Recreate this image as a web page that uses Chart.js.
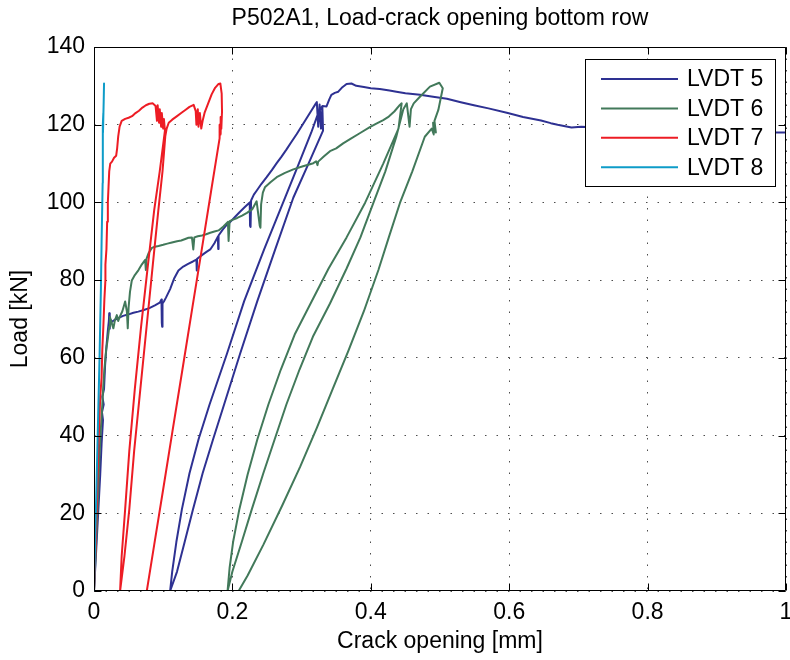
<!DOCTYPE html>
<html>
<head>
<meta charset="utf-8">
<script src="https://cdn.jsdelivr.net/npm/chart.js@4.4.1/dist/chart.umd.min.js"></script>
<style>
    html, body { margin: 0; padding: 0; background: #fff; }
    #wrap { width: 790px; height: 660px; }
</style>
</head>
<body>
<div id="wrap"><canvas id="crack-graph" width="790" height="660"></canvas></div>
<script>
// crack opening [mm], load [kN]
const lvdt5 = [
    [0,0],[0.003,10],[0.006,20],[0.009,30],[0.011,38],[0.013,44],[0.0115,46],[0.014,48],[0.012,50],[0.0145,52],
    [0.016,58],[0.018,63],[0.020,67],[0.0215,69.5],[0.022,71.5],[0.0225,67.5],[0.023,70],[0.026,69.3],[0.030,69.8],
    [0.035,70.2],[0.042,70.8],[0.050,71.2],[0.057,71.6],[0.064,71.9],[0.072,72.3],[0.080,72.8],[0.088,73.5],
    [0.095,74.2],[0.0975,75],[0.098,69],[0.0985,68],[0.099,74],[0.101,74.5],[0.104,75.5],[0.110,77.7],[0.116,80.5],
    [0.122,82.5],[0.129,83.5],[0.136,84.2],[0.143,84.8],[0.148,85.3],[0.1485,82.5],[0.149,85.5],[0.155,86.3],
    [0.162,87.2],[0.168,87.9],[0.174,89.5],[0.179,91.2],[0.1795,88],[0.180,91.5],[0.186,93],[0.192,94.3],[0.197,95],
    [0.204,96.3],[0.211,97.6],[0.218,98.8],[0.225,100],[0.2255,94],[0.226,99],[0.2265,93.7],[0.227,100.5],[0.231,102],
    [0.235,103],[0.242,104.8],[0.2495,106.5],[0.257,108.3],[0.264,110.1],[0.271,111.8],[0.278,113.6],[0.285,115.5],
    [0.293,117.6],[0.300,119.6],[0.307,121.6],[0.314,123.6],[0.320,125.3],[0.322,125.8],[0.324,119.5],[0.326,125.2],
    [0.328,119],[0.330,124.5],[0.331,118.5],
    [0.310,110],[0.288,101.2],[0.262,88],[0.236,74.6],[0.211,61],[0.188,48],[0.172,39],[0.157,30.3],[0.143,21],
    [0.131,12.6],[0.120,5],[0.110,0],
    [0.113,5],[0.119,12.6],[0.127,21],[0.138,30.3],[0.151,39],[0.167,48],[0.192,61],[0.217,74.6],[0.246,88],
    [0.276,101.2],[0.296,110],[0.314,118],[0.324,123],[0.330,124.8],
    [0.336,124.7],[0.340,126.5],[0.343,127.7],[0.348,128.2],[0.353,128.5],[0.358,129.5],[0.365,130.5],[0.372,130.6],
    [0.379,130.0],[0.390,129.7],[0.400,129.4],[0.413,129.2],[0.427,128.8],[0.437,128.5],[0.450,128.1],[0.471,127.7],
    [0.490,127.2],[0.510,126.7],[0.530,125.8],[0.549,125.0],[0.570,124.2],[0.598,123.0],[0.620,122.0],[0.646,121.1],
    [0.660,120.4],[0.670,120.0],[0.690,119.3],[0.704,119.5],[0.730,119.3],[0.760,119.1],[0.800,118.8],[0.850,118.6],
    [0.900,118.4],[0.950,118.3],[0.975,118.3],[0.980,118.0],[1.0,118.0]
]

const lvdt6 = [
    [0,0],[0.003,12],[0.006,25],[0.008,35],[0.010,42],[0.012,48],[0.0135,53],[0.015,57],[0.0175,62],[0.020,65],
    [0.022,68],[0.023,70.5],[0.0255,69],[0.028,67.6],[0.030,69.5],[0.033,71],[0.035,69.5],[0.037,70.5],[0.041,72],
    [0.045,74.5],[0.0475,72],[0.0488,67.6],[0.050,73],[0.052,77],[0.0546,79.9],[0.059,81.3],[0.0643,82.6],[0.069,84],
    [0.0739,85.2],[0.0749,82.6],[0.0758,85.5],[0.079,87],[0.0836,88.3],[0.088,88.6],[0.0932,88.8],[0.100,89.1],
    [0.106,89.4],[0.1126,89.7],[0.120,90],[0.126,90.2],[0.1319,90.6],[0.1365,90.9],[0.1415,91],[0.1435,87.9],
    [0.145,91],[0.150,91.3],[0.156,91.5],[0.162,91.8],[0.168,92.2],[0.174,92.5],[0.180,92.8],[0.187,93.8],
    [0.1935,95],[0.1945,90.1],[0.196,95.2],[0.200,95.5],[0.207,96],[0.214,96.6],[0.221,97.3],[0.2285,98.2],
    [0.235,100.3],[0.2395,94],[0.2405,93.5],[0.2415,99.5],[0.244,102.5],[0.247,103.9],[0.255,105.2],[0.264,106.5],
    [0.276,107.6],[0.288,108.5],[0.302,109.3],[0.317,110.1],[0.321,110.6],[0.323,109.6],[0.324,110.5],[0.332,111.8],
    [0.341,113.2],[0.350,113.9],[0.360,115.2],[0.370,116.3],[0.384,117.8],[0.3986,119.4],[0.408,120.3],[0.418,121.2],
    [0.426,122.1],[0.434,123.4],[0.442,125.1],[0.4446,125.5],[0.440,119],
    [0.418,110],[0.392,100],[0.365,91],[0.339,83],[0.313,74],[0.290,66],[0.270,57],[0.252,48],[0.236,39],[0.222,30],
    [0.210,21],[0.201,12.6],[0.196,6],[0.193,0],
    [0.200,5],[0.2135,12.6],[0.228,21],[0.2447,30.3],[0.261,39],[0.278,48],[0.297,57],[0.317,65.7],[0.341,74],
    [0.365,83],[0.385,91],[0.404,100],[0.421,108],[0.437,117],[0.447,124],[0.452,125.5],[0.456,119.5],[0.458,124],
    [0.462,125.5],[0.471,127.2],[0.4855,129.8],[0.499,130.8],[0.504,129.4],[0.4976,123.8],[0.492,121],[0.494,118],
    [0.490,120.5],[0.491,117.5],[0.488,119],
    [0.478,116.9],[0.460,108],[0.442,99.8],[0.426,91],[0.411,82.6],[0.390,72],[0.368,62],[0.345,52],[0.322,42],
    [0.298,32],[0.272,22],[0.245,12],[0.222,4],[0.209,0]
]

const lvdt7 = [
    [0,0],[0.003,15],[0.006,35],[0.009,50],[0.011,55],[0.012,62],[0.0135,68],[0.015,75],[0.0165,80],[0.0165,84],
    [0.018,88],[0.019,95],[0.020,100],[0.021,104],[0.022,108],[0.0235,110],[0.026,110.5],[0.029,111.5],[0.032,112],
    [0.0335,114],[0.035,117],[0.037,119.5],[0.040,121],[0.045,121.5],[0.050,121.8],[0.055,122.2],[0.060,123],
    [0.065,123.6],[0.070,124.4],[0.075,125],[0.080,125.4],[0.085,125.5],[0.089,124.8],[0.091,121],[0.092,125],
    [0.094,120.5],[0.095,124],[0.097,119.5],[0.098,123],[0.100,119],[0.101,121.5],[0.1025,118.5],
    [0.095,108],[0.087,98],[0.078,84],[0.068,68],[0.059,52],[0.051,36],[0.045,21],[0.040,9],[0.0377,0],
    [0.044,9],[0.051,21],[0.058,36],[0.067,52],[0.076,68],[0.085,84],[0.093,98],[0.099,108],[0.103,117],[0.105,119],
    [0.108,120.5],[0.113,121.3],[0.120,122.2],[0.126,123],[0.132,123.8],[0.138,124.6],[0.144,125.1],[0.147,123.5],
    [0.148,120],[0.150,124],[0.151,119.5],[0.153,123],[0.155,119],[0.157,121],[0.160,123.2],[0.165,125.5],
    [0.170,127.8],[0.175,129.5],[0.180,130.5],[0.1826,130.6],[0.1845,128],[0.185,123.4],[0.184,119],[0.1835,122],
    [0.183,117.5],[0.182,120],[0.1815,116.5],
    [0.1693,103],[0.1558,88],[0.1422,73],[0.1278,57],[0.1133,41],[0.0998,26],[0.0871,12],[0.0763,0]
]

const lvdt8 = [
    [0,0],[0.002,15],[0.004,30],[0.006,45],[0.008,60],[0.010,78],[0.011,90],[0.0125,105],[0.013,115],[0.0125,120],
    [0.0135,123],[0.013,118],[0.014,126],[0.0145,130.6]
]

const seriesNames = ['LVDT 5', 'LVDT 6', 'LVDT 7', 'LVDT 8']
const seriesData = [lvdt5, lvdt6, lvdt7, lvdt8]
const xTicks = [0, 0.2, 0.4, 0.6, 0.8, 1]
const yTicks = [0, 20, 40, 60, 80, 100, 120, 140]

const colors = ['#2e3192', '#42795a', '#ed1c24', '#0e9cc8']
const fontFamily = "'Liberation Sans', Arial, Helvetica, sans-serif"

// matlab style box with inward ticks
const framePlugin = {
    id: 'frame',
    afterDatasetsDraw(chart) {
        const { ctx, chartArea: a, scales: { x, y } } = chart
        const l = Math.round(a.left) + 0.5, r = Math.round(a.right) - 0.5
        const t = Math.round(a.top) + 0.5, b = Math.round(a.bottom) - 0.5
        const len = 7
        ctx.save()
        ctx.strokeStyle = '#000'
        ctx.lineWidth = 1
        ctx.beginPath()
        ctx.rect(l, t, r - l, b - t)
        x.ticks.forEach(tk => {
            const px = Math.round(x.getPixelForValue(tk.value)) + 0.5
            ctx.moveTo(px, b); ctx.lineTo(px, b - len)
            ctx.moveTo(px, t); ctx.lineTo(px, t + len)
        })
        y.ticks.forEach(tk => {
            const py = Math.round(y.getPixelForValue(tk.value)) + 0.5
            ctx.moveTo(l, py); ctx.lineTo(l + len, py)
            ctx.moveTo(r, py); ctx.lineTo(r - len, py)
        })
        ctx.stroke()
        ctx.restore()
    }
}

const legendPlugin = {
    id: 'boxLegend',
    afterDraw(chart) {
        const { ctx } = chart
        const bx = 585.5, by = 59.5, bw = 190, bh = 127
        ctx.save()
        ctx.fillStyle = '#fff'
        ctx.fillRect(bx, by, bw, bh)
        ctx.strokeStyle = '#000'
        ctx.lineWidth = 1
        ctx.strokeRect(bx, by, bw, bh)
        ctx.font = '23px ' + fontFamily
        ctx.textBaseline = 'middle'
        ctx.textAlign = 'left'
        seriesNames.forEach((name, i) => {
            const rowY = 79 + i * 29.4
            ctx.strokeStyle = colors[i]
            ctx.lineWidth = 2
            ctx.beginPath()
            ctx.moveTo(601, rowY)
            ctx.lineTo(678, rowY)
            ctx.stroke()
            ctx.fillStyle = '#000'
            ctx.fillText(name, 687, rowY + 1)
        })
        ctx.restore()
    }
}

const datasets = seriesData.map((pts, i) => ({
    label: seriesNames[i],
    data: pts.map(p => ({ x: p[0], y: p[1] })),
    borderColor: colors[i],
    backgroundColor: colors[i],
    borderWidth: 2,
    pointRadius: 0,
    tension: 0,
    fill: false,
    borderJoinStyle: 'round',
    borderCapStyle: 'round',
    order: seriesNames.length - i
}))

const gridOpts = {
    color: 'rgba(0,0,0,0.7)',
    lineWidth: 1,
    drawTicks: false
}

const ctx = document.getElementById('crack-graph').getContext('2d')
const myChart = new Chart(ctx, {
    type: 'line',
    data: { datasets: datasets },
    plugins: [framePlugin, legendPlugin],
    options: {
        responsive: false,
        devicePixelRatio: 1,
        animation: false,
        layout: { padding: { left: 0, right: 4, top: 0, bottom: 0 } },
        plugins: {
            legend: { display: false },
            tooltip: { enabled: false },
            title: {
                display: true,
                text: 'P502A1, Load-crack opening bottom row',
                color: '#000',
                fullSize: false,
                font: { family: fontFamily, size: 23, weight: 'normal' },
                padding: { top: 5, bottom: 14.4 }
            }
        },
        scales: {
            x: {
                type: 'linear',
                min: 0,
                max: 1,
                grid: gridOpts,
                border: { display: false, dash: [1.5, 10] },
                afterBuildTicks: axis => { axis.ticks = xTicks.map(v => ({ value: v })) },
                afterFit: axis => { axis.height = 69; axis.paddingLeft = 0; axis.paddingRight = 0 },
                ticks: {
                    color: '#000',
                    padding: 8,
                    maxRotation: 0,
                    font: { family: fontFamily, size: 23 },
                    callback: v => String(Math.round(v * 10) / 10)
                },
                title: {
                    display: true,
                    text: 'Crack opening [mm]',
                    color: '#000',
                    font: { family: fontFamily, size: 23 },
                    padding: { top: 0, bottom: 4.2 }
                }
            },
            y: {
                type: 'linear',
                min: 0,
                max: 140,
                grid: gridOpts,
                border: { display: false, dash: [1.5, 10] },
                afterBuildTicks: axis => { axis.ticks = yTicks.map(v => ({ value: v })) },
                afterFit: axis => { axis.width = 94; axis.paddingTop = 0; axis.paddingBottom = 0 },
                ticks: {
                    color: '#000',
                    padding: 9,
                    font: { family: fontFamily, size: 23 }
                },
                title: {
                    display: true,
                    text: 'Load [kN]',
                    color: '#000',
                    font: { family: fontFamily, size: 23 },
                    padding: { top: 6.7, bottom: 0 }
                }
            }
        }
    }
})
</script>
</body>
</html>
